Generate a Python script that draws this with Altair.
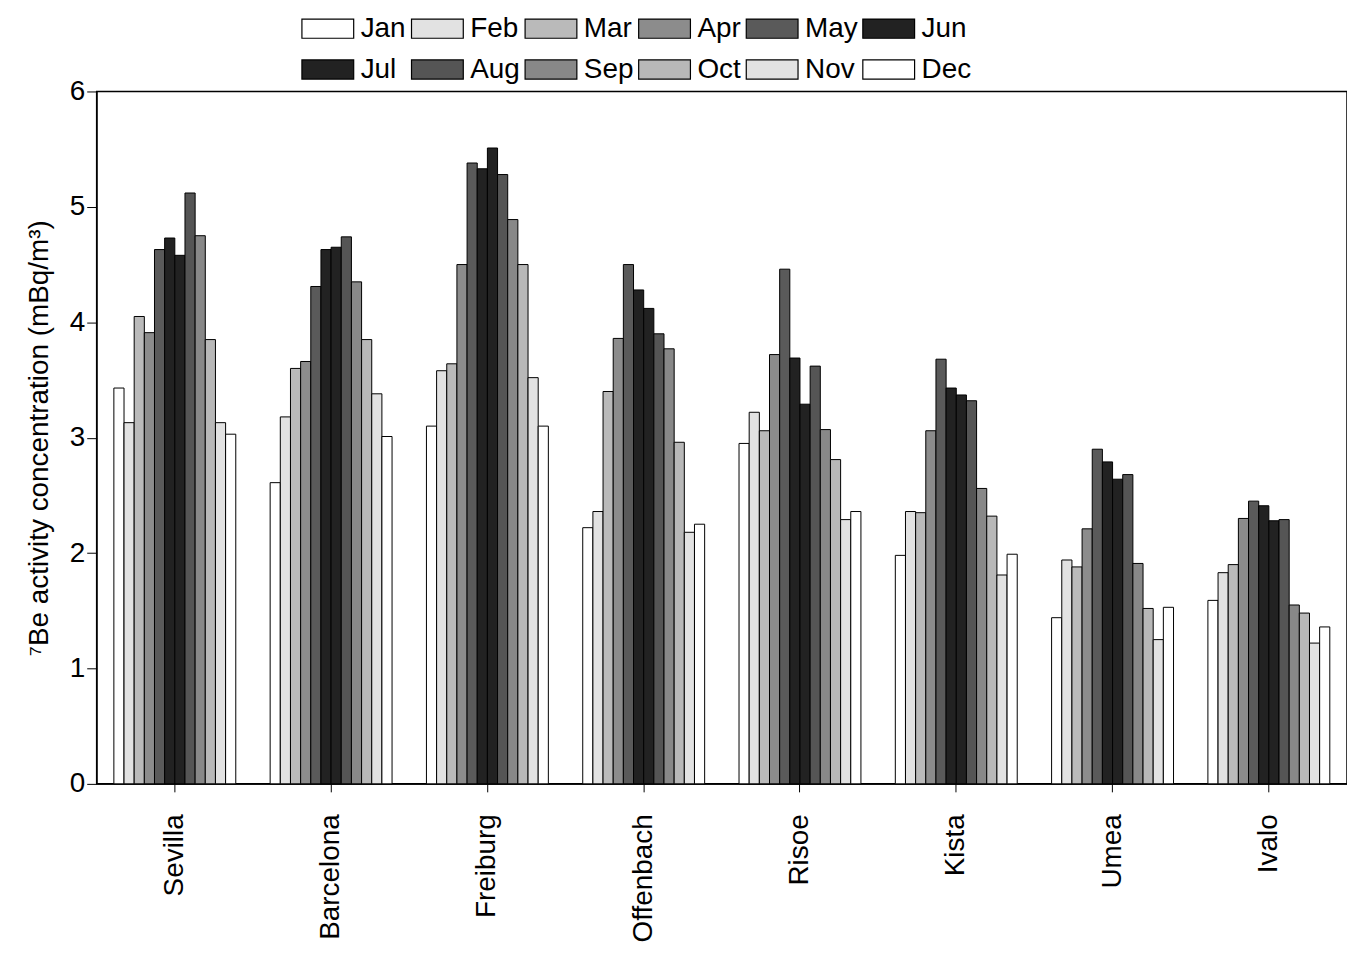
import altair as alt
import pandas as pd

stations = ["Sevilla", "Barcelona", "Freiburg", "Offenbach", "Risoe", "Kista", "Umea", "Ivalo"]
months = ["Jan", "Feb", "Mar", "Apr", "May", "Jun", "Jul", "Aug", "Sep", "Oct", "Nov", "Dec"]
month_colors = ["#ffffff", "#e2e2e2", "#bababa", "#8c8c8c", "#5a5a5a", "#222222",
                "#222222", "#555555", "#888888", "#b8b8b8", "#e2e2e2", "#ffffff"]
# legend fills column by column, so interleave to get Jan..Jun on the first row
legend_order = ["Jan", "Jul", "Feb", "Aug", "Mar", "Sep", "Apr", "Oct", "May", "Nov", "Jun", "Dec"]

sevilla = [3.43, 3.13, 4.05, 3.91, 4.63, 4.73, 4.58, 5.12, 4.75, 3.85, 3.13, 3.03]
barcelona = [2.61, 3.18, 3.60, 3.66, 4.31, 4.63, 4.65, 4.74, 4.35, 3.85, 3.38, 3.01]
freiburg = [3.10, 3.58, 3.64, 4.50, 5.38, 5.33, 5.51, 5.28, 4.89, 4.50, 3.52, 3.10]
offenbach = [2.22, 2.36, 3.40, 3.86, 4.50, 4.28, 4.12, 3.90, 3.77, 2.96, 2.18, 2.25]
risoe = [2.95, 3.22, 3.06, 3.72, 4.46, 3.69, 3.29, 3.62, 3.07, 2.81, 2.29, 2.36]
kista = [1.98, 2.36, 2.35, 3.06, 3.68, 3.43, 3.37, 3.32, 2.56, 2.32, 1.81, 1.99]
umea = [1.44, 1.94, 1.88, 2.21, 2.90, 2.79, 2.64, 2.68, 1.91, 1.52, 1.25, 1.53]
ivalo = [1.59, 1.83, 1.90, 2.30, 2.45, 2.41, 2.28, 2.29, 1.55, 1.48, 1.22, 1.36]

series = [sevilla, barcelona, freiburg, offenbach, risoe, kista, umea, ivalo]
rows = []
for st, vals in zip(stations, series):
    for m, v in zip(months, vals):
        rows.append({"Station": st, "Month": m, "Value": v})
df = pd.DataFrame(rows)

FONT = "Liberation Sans"

chart = (
    alt.Chart(df)
    .mark_bar(stroke="black", strokeWidth=1)
    .encode(
        x=alt.X("Station:N", sort=stations, title=None,
                scale=alt.Scale(paddingInner=0.22, paddingOuter=0.11),
                axis=alt.Axis(labelAngle=-90, labelFontSize=28, labelColor="black",
                              labelPadding=22, tickColor="black", tickSize=8,
                              domainColor="black", labelFont=FONT)),
        xOffset=alt.XOffset("Month:N", sort=months),
        y=alt.Y("Value:Q", title="⁷Be activity concentration (mBq/m³)",
                scale=alt.Scale(domain=[0, 6], nice=False),
                axis=alt.Axis(values=[0, 1, 2, 3, 4, 5, 6], grid=False, labelFontSize=28,
                              titleFontSize=28, titleFontWeight="normal", labelColor="black",
                              titleColor="black", tickColor="black", tickSize=10,
                              domainColor="black", labelFont=FONT, titleFont=FONT,
                              titlePadding=16)),
        color=alt.Color("Month:N", sort=months,
                        scale=alt.Scale(domain=months, range=month_colors),
                        legend=alt.Legend(title=None, orient="none", legendX=205, legendY=-90,
                                          columns=6, values=legend_order,
                                          symbolType="M-1,-0.37H1V0.37H-1Z",
                                          symbolSize=2700, symbolStrokeColor="black",
                                          symbolStrokeWidth=1.2, symbolOpacity=1,
                                          labelFontSize=28, labelColor="black", labelFont=FONT,
                                          columnPadding=2, rowPadding=0, labelOffset=6,
                                          labelLimit=200)),
    )
    .properties(width=1255, height=695,
                autosize=alt.AutoSizeParams(type="none"),
                padding={"left": 89, "top": 82, "right": 0, "bottom": 170})
    .configure_view(stroke="black", strokeWidth=1.5)
)

chart.save("out.html", embed_options={"renderer": "svg", "actions": False})
